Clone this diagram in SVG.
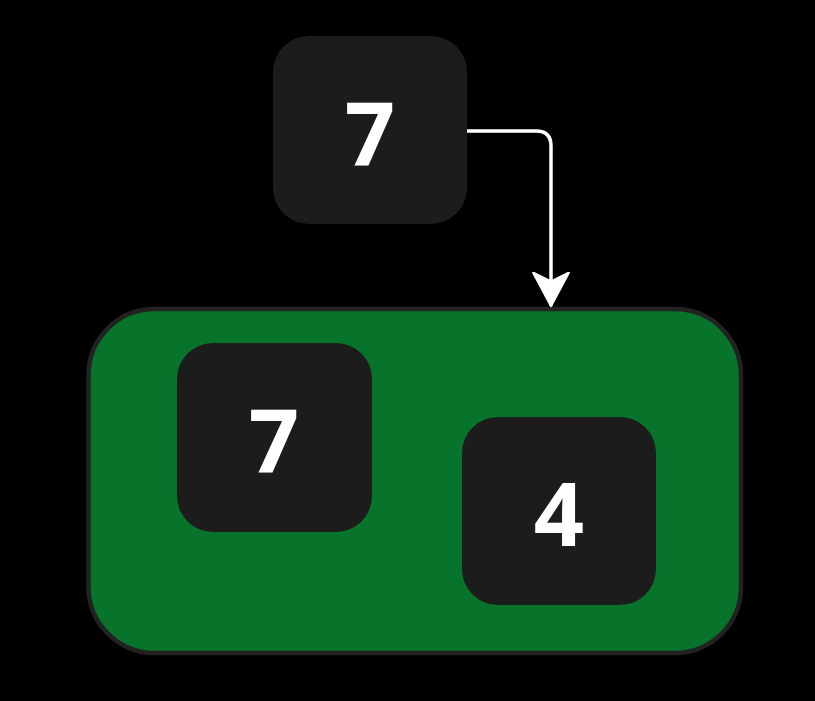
<svg xmlns="http://www.w3.org/2000/svg" width="815" height="701" viewBox="0 0 815 701">
<style>
.node{fill:#1c1c1c}
.lbl{fill:#ffffff;font-family:"Open Sans","Noto Sans",sans-serif;font-weight:bold;font-size:88px;text-anchor:middle}
.edge{fill:none;stroke:#ffffff;stroke-width:3.5}
</style>
<defs>
<marker id="arr" markerUnits="userSpaceOnUse" markerWidth="40" markerHeight="40" refX="31" refY="18" orient="auto" viewBox="0 0 36 36">
<path d="M31 18 L1 2 L9 18 L1 34 Z" fill="#ffffff" stroke="#ffffff" stroke-width="2" stroke-linejoin="round"/>
</marker>
</defs>
<rect width="815" height="701" fill="#000000"/>
<g id="container">
<rect x="88.5" y="309" width="652.5" height="344" rx="66" ry="66" fill="#08732a" stroke="#222222" stroke-width="4.5"/>
</g>
<g id="node-top">
<rect class="node" x="273" y="36" width="194" height="188" rx="36" ry="36"/>
<text class="lbl" x="370" y="166">7</text>
</g>
<g id="node-inner-7">
<rect class="node" x="177" y="343" width="195" height="189" rx="36" ry="36"/>
<text class="lbl" x="274" y="473">7</text>
</g>
<g id="node-inner-4">
<rect class="node" x="462" y="417" width="194" height="188" rx="36" ry="36"/>
<text class="lbl" x="559" y="546">4</text>
</g>
<g id="connectors">
<path class="edge" d="M467 131 H536 Q551 131 551 146 V306" marker-end="url(#arr)"/>
</g>
</svg>
